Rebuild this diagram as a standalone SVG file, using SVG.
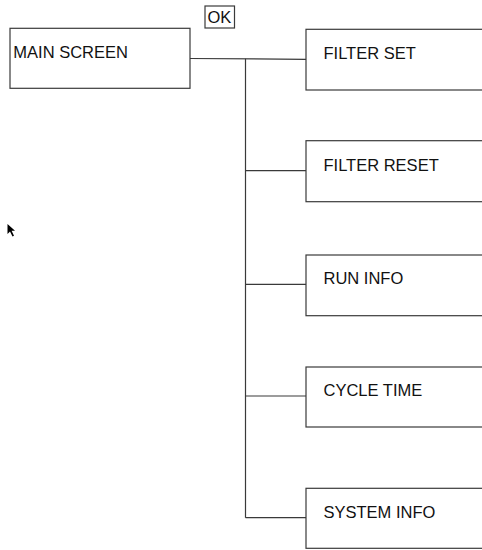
<svg xmlns="http://www.w3.org/2000/svg" width="482" height="550" viewBox="0 0 482 550">
<style>
.box{fill:#fff;stroke:#3a3a3a;stroke-width:1.2}
.lbl{font-family:"Liberation Sans",Arial,sans-serif;font-size:16.5px;fill:#111}
.conn{fill:none;stroke:#3a3a3a;stroke-width:1.2}
</style>
<rect width="482" height="550" fill="#fff"/>
<g id="ok">
<rect class="box" x="205" y="6" width="29.5" height="22"/>
<text class="lbl" x="207.5" y="23">OK</text>
</g>
<g id="connectors">
<polyline class="conn" points="190,58.5 306,59.3"/>
<line class="conn" x1="245.5" y1="58.8" x2="245.5" y2="517.7"/>
<line class="conn" x1="245.5" y1="170.7" x2="306" y2="170.7"/>
<line class="conn" x1="245.5" y1="284.3" x2="306" y2="284.3"/>
<line class="conn" x1="245.5" y1="396" x2="306" y2="396"/>
<line class="conn" x1="245.5" y1="517.7" x2="306" y2="517.7"/>
</g>
<g id="main-screen">
<rect class="box" x="10" y="28.3" width="180" height="60"/>
<text class="lbl" x="13.3" y="58.3">MAIN SCREEN</text>
</g>
<g id="filter-set">
<rect class="box" x="306" y="29.3" width="185" height="60.7"/>
<text class="lbl" x="323.5" y="59.3">FILTER SET</text>
</g>
<g id="filter-reset">
<rect class="box" x="306" y="140.7" width="185" height="61"/>
<text class="lbl" x="323.5" y="170.7">FILTER RESET</text>
</g>
<g id="run-info">
<rect class="box" x="306" y="255" width="185" height="60.7"/>
<text class="lbl" x="323.5" y="284.3">RUN INFO</text>
</g>
<g id="cycle-time">
<rect class="box" x="306" y="367" width="185" height="60"/>
<text class="lbl" x="323.5" y="396">CYCLE TIME</text>
</g>
<g id="system-info">
<rect class="box" x="306" y="488.3" width="185" height="60"/>
<text class="lbl" x="323.5" y="517.7">SYSTEM INFO</text>
</g>
<polygon points="7.5,224 7.5,234 10,231.5 12.5,236.5 14,235.8 11.6,230.8 15,230.8" fill="#000"/>
</svg>
